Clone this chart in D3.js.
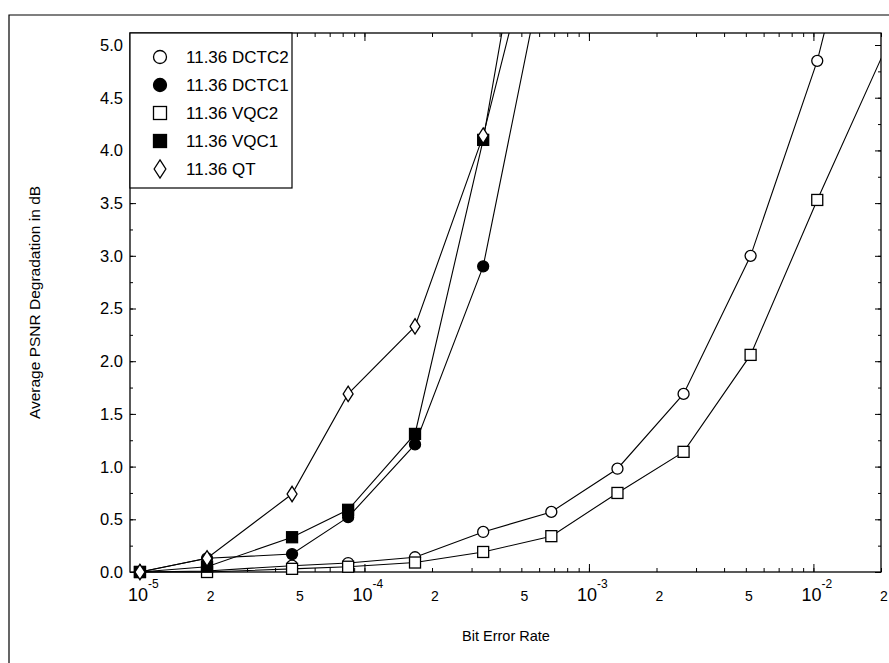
<!DOCTYPE html>
<html><head><meta charset="utf-8">
<script src="https://cdn.jsdelivr.net/npm/d3@7"></script>
<style>
body{margin:0;background:#fff;}
svg text{font-family:"Liberation Sans",Arial,Helvetica,sans-serif;fill:#000;}
</style></head>
<body><svg id="c" width="889" height="663"></svg>
<script>
// ---- data ----
const ber = [1e-5, 1.99e-5, 4.76e-5, 8.46e-5, 1.68e-4, 3.38e-4, 6.8e-4, 1.34e-3, 2.64e-3, 5.25e-3, 1.04e-2, 2.08e-2];
const dctc2 = [0, 0.01, 0.06, 0.085, 0.14, 0.38, 0.57, 0.98, 1.69, 3.0, 4.85, 7.4];
const dctc1 = [0, 0.13, 0.17, 0.52, 1.21, 2.9, 6.1];
const vqc2  = [0, 0.0, 0.03, 0.05, 0.09, 0.19, 0.34, 0.75, 1.14, 2.06, 3.53, 4.95];
const vqc1  = [0, 0.05, 0.33, 0.59, 1.31, 4.1, 7.8];
const qt    = [0, 0.13, 0.74, 1.69, 2.33, 4.14, 6.7];
const seriesNames = ["11.36 DCTC2", "11.36 DCTC1", "11.36 VQC2", "11.36 VQC1", "11.36 QT"];
const yTicks = [0, 0.5, 1.0, 1.5, 2.0, 2.5, 3.0, 3.5, 4.0, 4.5, 5.0];
const xMajor = [1e-5, 1e-4, 1e-3, 1e-2];
const xMajorExp = ["-5", "-4", "-3", "-2"];
const xMinorLabeled = [2e-5, 5e-5, 2e-4, 5e-4, 2e-3, 5e-3, 2e-2];
const xMinorText = ["2", "5", "2", "5", "2", "5", "2"];
const xTitle = "Bit Error Rate";
const yTitle = "Average PSNR Degradation in dB";

// ---- layout ----
const L = 130, R = 881, T = 33, B = 572;
const svg = d3.select("#c");
const x = d3.scaleLog().domain([9.03e-6, 2.0e-2]).range([L, R]);
const y = d3.scaleLinear().domain([0, 5.114]).range([B, T]);

// outer frame
svg.append("path").attr("d", `M9,663 L9,15 L889,15`).attr("fill", "none").attr("stroke", "#000").attr("stroke-width", 1.2);

// clip
svg.append("defs").append("clipPath").attr("id", "clp")
  .append("rect").attr("x", 0).attr("y", T).attr("width", R).attr("height", 663 - T);

// axes (ticks inward on all sides)
const minorX = [];
for (let e = -6; e <= -2; e++) for (let m = 1; m <= 9; m++) {
  const v = m * Math.pow(10, e);
  if (v >= 9.03e-6 && v <= 2.0e-2) minorX.push(v);
}
const axB = d3.axisBottom(x).tickValues(minorX).tickSize(-4).tickFormat("");
const axT = d3.axisTop(x).tickValues(minorX).tickSize(-4).tickFormat("");
svg.append("g").attr("transform", `translate(0,${B})`).call(axB);
svg.append("g").attr("transform", `translate(0,${T})`).call(axT);
const axBM = d3.axisBottom(x).tickValues(xMajor).tickSize(-8).tickFormat("");
const axTM = d3.axisTop(x).tickValues(xMajor).tickSize(-8).tickFormat("");
svg.append("g").attr("transform", `translate(0,${B})`).call(axBM);
svg.append("g").attr("transform", `translate(0,${T})`).call(axTM);
const yMinor = d3.range(0, 5.01, 0.25);
const axL = d3.axisLeft(y).tickValues(yMinor).tickSize(-3).tickFormat("");
const axR = d3.axisRight(y).tickValues(yMinor).tickSize(-3).tickFormat("");
const axLM = d3.axisLeft(y).tickValues(yTicks).tickSize(-6).tickFormat("");
const axRM = d3.axisRight(y).tickValues(yTicks).tickSize(-6).tickFormat("");
svg.append("g").attr("transform", `translate(${L},0)`).call(axL);
svg.append("g").attr("transform", `translate(${R},0)`).call(axR);
svg.append("g").attr("transform", `translate(${L},0)`).call(axLM);
svg.append("g").attr("transform", `translate(${R},0)`).call(axRM);
svg.selectAll(".domain").remove();
svg.selectAll(".tick line").attr("stroke", "#000").attr("stroke-width", 1);

// frame
svg.append("rect").attr("x", L).attr("y", T).attr("width", R - L).attr("height", B - T)
  .attr("fill", "none").attr("stroke", "#000").attr("stroke-width", 1.3);

// y tick labels
svg.append("g").selectAll("text").data(yTicks).join("text")
  .attr("x", L - 7).attr("y", d => y(d)).attr("dy", "0.36em")
  .attr("text-anchor", "end").attr("font-size", 16.5).text(d => d.toFixed(1));

// x tick labels
xMajor.forEach((v, i) => {
  svg.append("text").attr("x", x(v) - 2).attr("y", 601).attr("text-anchor", "middle")
    .attr("font-size", 18).text("10");
  svg.append("text").attr("x", x(v) + 8).attr("y", 588).attr("text-anchor", "start")
    .attr("font-size", 12).text(xMajorExp[i]);
});
xMinorLabeled.forEach((v, i) => {
  svg.append("text").attr("x", x(v) + 3).attr("y", 601).attr("text-anchor", "middle")
    .attr("font-size", 14).text(xMinorText[i]);
});

// titles
svg.append("text").attr("x", 506).attr("y", 641).attr("text-anchor", "middle")
  .attr("font-size", 14.5).text(xTitle);
svg.append("text").attr("transform", `translate(40,${(T + B) / 2}) rotate(-90)`)
  .attr("text-anchor", "middle").attr("font-size", 15.5).text(yTitle);

// series
const series = [
  {vals: dctc2, shape: "circle", fill: "#fff"},
  {vals: dctc1, shape: "circle", fill: "#000"},
  {vals: vqc2, shape: "square", fill: "#fff"},
  {vals: vqc1, shape: "square", fill: "#000"},
  {vals: qt, shape: "diamond", fill: "#fff"}
];
const line = d3.line().x(d => x(d[0])).y(d => y(d[1]));
const plotG = svg.append("g").attr("clip-path", "url(#clp)");
series.forEach(s => {
  const pts = s.vals.map((v, i) => [ber[i], v]);
  plotG.append("path").datum(pts).attr("d", line).attr("fill", "none")
    .attr("stroke", "#000").attr("stroke-width", 1.1);
});
function marker(g, shape, cx, cy, fill, sz) {
  if (shape === "circle") {
    g.append("circle").attr("cx", cx).attr("cy", cy).attr("r", sz * 0.5)
      .attr("fill", fill).attr("stroke", "#000").attr("stroke-width", 1.3);
  } else if (shape === "square") {
    g.append("rect").attr("x", cx - sz / 2).attr("y", cy - sz / 2).attr("width", sz).attr("height", sz)
      .attr("fill", fill).attr("stroke", "#000").attr("stroke-width", 1.3);
  } else {
    const w = sz * 0.45, h = sz * 0.7;
    g.append("path").attr("d", `M${cx},${cy - h} L${cx + w},${cy} L${cx},${cy + h} L${cx - w},${cy} Z`)
      .attr("fill", fill).attr("stroke", "#000").attr("stroke-width", 1.3);
  }
}
series.forEach(s => {
  s.vals.forEach((v, i) => {
    const px = x(ber[i]), py = y(v);
    if (px <= R && py >= T) marker(plotG, s.shape, px, py, s.fill, 11);
  });
});

// legend
const lg = svg.append("g");
lg.append("rect").attr("x", L).attr("y", T).attr("width", 162).attr("height", 155)
  .attr("fill", "#fff").attr("stroke", "#000").attr("stroke-width", 1.2);
seriesNames.forEach((n, i) => {
  const yy = T + 24 + i * 28;
  marker(lg, series[i].shape, 160, yy, series[i].fill, 13);
  lg.append("text").attr("x", 186).attr("y", yy).attr("dy", "0.36em")
    .attr("font-size", 17).text(n);
});
</script></body></html>
